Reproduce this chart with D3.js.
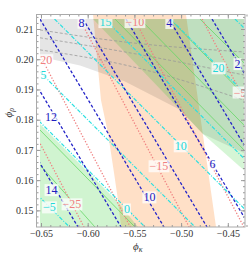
<!DOCTYPE html>
<html>
<head>
<meta charset="utf-8">
<script src="https://cdn.jsdelivr.net/npm/d3@7"></script>
<style>
  body { margin: 0; background: #fff; }
  svg { display: block; }
</style>
</head>
<body>
<svg id="chart"></svg>
<script>
// frame and plot window, data units (phi_kappa, phi_rho)
const frameX = [-0.6548, -0.4316];
const frameY = [0.1445, 0.2148];
const plotX = [-0.6511, -0.4327];
const plotY = [0.1445, 0.2133];

const xTicks = [-0.65, -0.60, -0.55, -0.50, -0.45];
const yTicks = [0.15, 0.16, 0.17, 0.18, 0.19, 0.20, 0.21];

// shaded regions
const grayRegion = [[-0.6511,0.2133],[-0.4327,0.2133],[-0.4327,0.1690],[-0.4766,0.1753],[-0.5012,0.1833],[-0.5601,0.1926],[-0.6082,0.1979],[-0.6511,0.2008]];
const peachRegion = [[-0.5943,0.2148],[-0.5858,0.1865],[-0.5783,0.1756],[-0.5718,0.1624],[-0.5676,0.1534],[-0.5643,0.1445],[-0.4626,0.1445],[-0.4766,0.1749],[-0.4948,0.2148]];
const greenUpper = [[-0.5943,0.2133],[-0.4327,0.2133],[-0.4327,0.1633],[-0.4766,0.1753],[-0.5012,0.1833]];
const greenLower = [[-0.6511,0.1786],[-0.5697,0.1534],[-0.5461,0.1445],[-0.6511,0.1445]];

// blue contours: phi_kappa where each level meets top (0.2133) and bottom (0.1445)
const blueLevels = [2, 4, 6, 8, 10, 12, 14];
const blueTop    = [-0.4669, -0.5130, -0.5590, -0.6050, -0.6511, -0.6971, -0.7431];
const blueBottom = [-0.3342, -0.3802, -0.4262, -0.4723, -0.5183, -0.5643, -0.6104];

// cyan contours
const cyanLevels = [-5, 0, 5, 10, 15, 20, 25];
const cyanTop    = [-0.8422, -0.7613, -0.7078, -0.6355, -0.5820, -0.5113, -0.4423];
const cyanBottom = [-0.6195, -0.5387, -0.4851, -0.4128, -0.3593, -0.2887, -0.2196];

// pink contours
const pinkLevels = [-25, -20, -15, -10, -5];
const pinkTop    = [-0.7211, -0.6715, -0.6087, -0.5500, -0.4775];
const pinkBottom = [-0.6039, -0.5543, -0.4914, -0.4328, -0.3604];

// gray dashed curves inside the gray region
const grayCurves = [
  [[-0.6511,0.2097],[-0.5601,0.2057],[-0.4327,0.2024]],
  [[-0.6511,0.2071],[-0.5601,0.2024],[-0.4327,0.1948]],
  [[-0.6511,0.2031],[-0.5601,0.1981],[-0.4327,0.1865]]
];

// thin green lines
const greenLines = [
  [[-0.5708,0.2133],[-0.4327,0.1700]],
  [[-0.5440,0.2133],[-0.4327,0.1782]],
  [[-0.5119,0.2133],[-0.4327,0.1882]],
  [[-0.4798,0.2133],[-0.4327,0.1988]],
  [[-0.6511,0.1766],[-0.5494,0.1445]],
  [[-0.6511,0.1650],[-0.5922,0.1445]]
];

// contour labels [text, phi_kappa, phi_rho]
const blueLabels = [["8",-0.6066,0.2122],["4",-0.5126,0.2121],["2",-0.4396,0.1985],["12",-0.6393,0.1809],["14",-0.6387,0.1568],["10",-0.5339,0.1544],["6",-0.4663,0.1653]];
const cyanLabels = [["15",-0.5810,0.2124],["20",-0.4599,0.1971],["5",-0.6474,0.1948],["10",-0.5004,0.1713],["\u22125",-0.6409,0.1511],["0",-0.5580,0.1504]];
const pinkLabels = [["\u221220",-0.6479,0.1998],["\u221210",-0.5494,0.2124],["\u22125",-0.4369,0.1891],["\u221215",-0.5237,0.1647],["\u221225",-0.6168,0.1521]];

const width = 249, height = 255;
const svg = d3.select('#chart').attr('width', width).attr('height', height);

const x = d3.scaleLinear().domain(frameX).range([36.5, 245]);
const y = d3.scaleLinear().domain(frameY).range([227, 14.5]);

const defs = svg.append('defs');
defs.append('clipPath').attr('id', 'plotClip')
    .append('rect')
    .attr('x', x(plotX[0])).attr('y', y(plotY[1]))
    .attr('width', x(plotX[1]) - x(plotX[0]))
    .attr('height', y(plotY[0]) - y(plotY[1]));
defs.append('clipPath').attr('id', 'frameClip')
    .append('rect')
    .attr('x', x(frameX[0])).attr('y', y(frameY[1]))
    .attr('width', x(frameX[1]) - x(frameX[0]))
    .attr('height', y(frameY[0]) - y(frameY[1]));

const line = d3.line().x(d => x(d[0])).y(d => y(d[1]));
const curve = d3.line().x(d => x(d[0])).y(d => y(d[1])).curve(d3.curveMonotoneX);

defs.append('clipPath').attr('id', 'grayClip').append('path').attr('d', line(grayRegion) + 'Z');
defs.append('clipPath').attr('id', 'greenClip').append('path').attr('d', line(greenUpper) + 'Z' + line(greenLower) + 'Z');

// regions
const regions = svg.append('g');
regions.append('path').attr('d', line(peachRegion) + 'Z')
    .attr('fill', 'rgb(255,160,80)').attr('fill-opacity', 0.32)
    .attr('clip-path', 'url(#frameClip)');
const inner = svg.append('g').attr('clip-path', 'url(#plotClip)');
inner.append('path').attr('d', line(grayRegion) + 'Z')
    .attr('fill', '#000').attr('fill-opacity', 0.1);
inner.append('path').attr('d', line(greenUpper) + 'Z')
    .attr('fill', 'rgb(20,200,20)').attr('fill-opacity', 0.18);
inner.append('path').attr('d', line(greenLower) + 'Z')
    .attr('fill', 'rgb(20,200,20)').attr('fill-opacity', 0.2);

// gray dashed curves
inner.append('g').attr('clip-path', 'url(#grayClip)')
    .selectAll('path').data(grayCurves).join('path')
    .attr('d', curve)
    .attr('fill', 'none').attr('stroke', '#999').attr('stroke-width', 0.8)
    .attr('stroke-dasharray', '3,2');

// green lines
inner.append('g').attr('clip-path', 'url(#greenClip)')
    .selectAll('path').data(greenLines).join('path')
    .attr('d', line)
    .attr('fill', 'none').attr('stroke', '#66d866').attr('stroke-width', 0.8);

function contourSet(levels, top, bottom, color, dash, w) {
  inner.append('g').selectAll('path')
      .data(levels.map((v, i) => [[top[i], plotY[1]], [bottom[i], plotY[0]]]))
      .join('path')
      .attr('d', line)
      .attr('fill', 'none')
      .attr('stroke', color)
      .attr('stroke-width', w)
      .attr('stroke-dasharray', dash);
}
contourSet(pinkLevels, pinkTop, pinkBottom, '#f08080', '1.3,1.7', 1.3);
contourSet(cyanLevels, cyanTop, cyanBottom, '#2de0e0', '4,1.5,1,1.5', 1.2);
contourSet(blueLevels, blueTop, blueBottom, '#2424c8', '3,2', 1.3);

// labels
const labelG = inner.append('g');
function addLabels(list, color) {
  list.forEach(d => {
    const g = labelG.append('g');
    const t = g.append('text')
        .attr('x', x(d[1])).attr('y', y(d[2]))
        .attr('dy', '0.36em')
        .attr('text-anchor', 'middle')
        .attr('font-family', 'Liberation Serif, serif')
        .attr('font-size', 12)
        .attr('fill', color)
        .text(d[0]);
    const b = t.node().getBBox();
    g.insert('rect', 'text')
        .attr('x', b.x - 1).attr('y', b.y + 1)
        .attr('width', b.width + 2).attr('height', b.height - 2)
        .attr('fill', '#fff').attr('fill-opacity', 0.75);
  });
}
addLabels(pinkLabels, '#f08080');
addLabels(cyanLabels, '#22d8d8');
addLabels(blueLabels, '#2020c0');

// frame and ticks
const axes = svg.append('g');
function tickAxis(axisFn, scale, ticks, size, labels, transform, fmt) {
  const a = axisFn(scale).tickValues(ticks).tickSizeInner(size).tickSizeOuter(0).tickPadding(3);
  a.tickFormat(labels ? fmt : () => '');
  const g = axes.append('g').attr('transform', transform).call(a);
  g.select('.domain').remove();
  g.selectAll('.tick line').attr('stroke', '#999');
  g.selectAll('.tick text').attr('font-family', 'Liberation Serif, serif')
      .attr('font-size', 10).attr('fill', '#333');
  return g;
}
const fmtX = d => d3.format('.2f')(d).replace('-', '\u2212');
const fmtY = d => d3.format('.2f')(d);
const xMinor = d3.range(-0.65, -0.43, 0.01).map(v => +v.toFixed(2));
const yMinor = d3.range(0.146, 0.2145, 0.002).map(v => +v.toFixed(3));

tickAxis(d3.axisBottom, x, xTicks, -4, true, `translate(0,${y(frameY[0])})`, fmtX);
tickAxis(d3.axisBottom, x, xMinor, -2, false, `translate(0,${y(frameY[0])})`);
tickAxis(d3.axisTop, x, xTicks, -4, false, `translate(0,${y(frameY[1])})`);
tickAxis(d3.axisTop, x, xMinor, -2, false, `translate(0,${y(frameY[1])})`);
tickAxis(d3.axisLeft, y, yTicks, -4, true, `translate(${x(frameX[0])},0)`, fmtY);
tickAxis(d3.axisLeft, y, yMinor, -2, false, `translate(${x(frameX[0])},0)`);
tickAxis(d3.axisRight, y, yTicks, -4, false, `translate(${x(frameX[1])},0)`);
tickAxis(d3.axisRight, y, yMinor, -2, false, `translate(${x(frameX[1])},0)`);

axes.append('rect')
    .attr('x', x(frameX[0])).attr('y', y(frameY[1]))
    .attr('width', x(frameX[1]) - x(frameX[0]))
    .attr('height', y(frameY[0]) - y(frameY[1]))
    .attr('fill', 'none').attr('stroke', '#aaa').attr('stroke-width', 1);

// axis titles
const xt = svg.append('text')
    .attr('x', (x(frameX[0]) + x(frameX[1])) / 2 - 3).attr('y', 250)
    .attr('text-anchor', 'middle')
    .attr('font-family', 'Liberation Serif, serif').attr('font-size', 11).attr('fill', '#333');
xt.append('tspan').attr('font-style', 'italic').text('\u03d5');
xt.append('tspan').attr('font-style', 'italic').attr('font-size', 8).attr('dy', 2).text('\u03ba');

const yt = svg.append('text')
    .attr('transform', `translate(12,${(y(frameY[0]) + y(frameY[1])) / 2 - 8}) rotate(-90)`)
    .attr('text-anchor', 'middle')
    .attr('font-family', 'Liberation Serif, serif').attr('font-size', 11).attr('fill', '#333');
yt.append('tspan').attr('font-style', 'italic').text('\u03d5');
yt.append('tspan').attr('font-style', 'italic').attr('font-size', 8).attr('dy', 2).text('\u03c1');
</script>
</body>
</html>
